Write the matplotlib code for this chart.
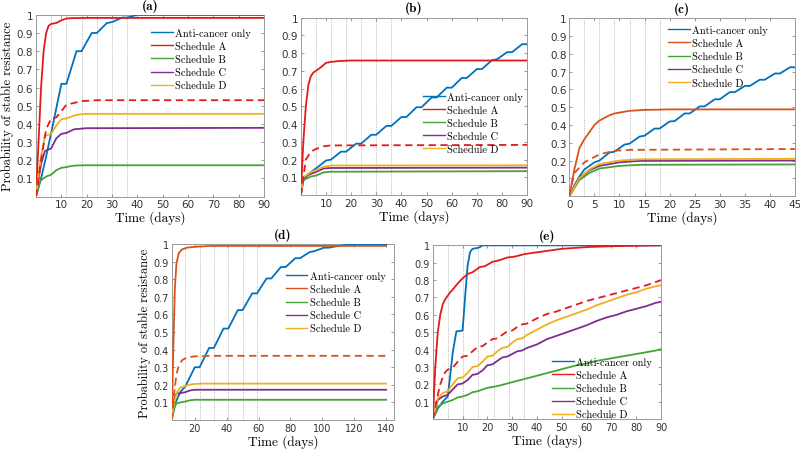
import numpy as np
import matplotlib
matplotlib.use("Agg")
import matplotlib.pyplot as plt

# ---- colours (MATLAB-ish) ----
BLUE = "#0072BD"
RED = "#E31A1C"
ORANGE = "#D95319"
GREEN = "#46A23A"
PURPLE = "#7E2F8E"
YELLOW = "#EDB120"

labels = ["Anti-cancer only", "Schedule A", "Schedule B", "Schedule C", "Schedule D"]

# ---- panel (a) ----
a_blue_t = [0, 2, 4, 6, 10, 12, 16, 18, 22, 24, 28, 30, 34, 36, 40, 50, 90]
a_blue_p = [0, 0.1, 0.22, 0.35, 0.62, 0.62, 0.80, 0.80, 0.90, 0.90, 0.955, 0.96, 0.985, 0.985, 1.0, 1.0, 1.0]
a_red_t = [0, 1, 2, 3, 4, 5, 6, 8, 10, 12, 15, 20, 90]
a_red_p = [0, 0.3, 0.6, 0.8, 0.9, 0.94, 0.95, 0.955, 0.97, 0.98, 0.982, 0.983, 0.983]
a_green_t = [0, 1, 2, 4, 6, 8, 10, 12, 14, 16, 20, 90]
a_green_p = [0, 0.06, 0.09, 0.11, 0.12, 0.145, 0.158, 0.162, 0.168, 0.171, 0.172, 0.172]
a_purple_t = [0, 1, 2, 3.5, 6, 8, 10, 12, 15, 20, 90]
a_purple_p = [0, 0.1, 0.18, 0.25, 0.265, 0.32, 0.345, 0.35, 0.37, 0.376, 0.378]
a_yellow_t = [0, 1, 2, 3.5, 6, 8, 10, 12, 14, 16, 20, 90]
a_yellow_p = [0, 0.12, 0.22, 0.335, 0.345, 0.39, 0.425, 0.43, 0.44, 0.45, 0.455, 0.455]
a_dash_t = [0, 2, 4, 6, 8, 10, 12, 15, 18, 24, 90]
a_dash_p = [0, 0.2, 0.37, 0.43, 0.435, 0.47, 0.505, 0.515, 0.525, 0.53, 0.53]
a_doses = [6, 12, 18, 24, 30, 36]

# ---- panel (b) ----
b_blue_t = [0, 1, 3, 6, 10, 12, 16, 18, 22, 24, 28, 30, 34, 36, 40, 42, 46, 48, 52, 54,
            58, 60, 64, 66, 70, 72, 76, 78, 82, 84, 88, 90]
b_blue_p = [0, 0.08, 0.12, 0.15, 0.195, 0.2, 0.245, 0.245, 0.29, 0.29, 0.34, 0.34, 0.39, 0.39,
            0.44, 0.44, 0.495, 0.495, 0.55, 0.55, 0.605, 0.605, 0.66, 0.66, 0.71, 0.71,
            0.76, 0.765, 0.805, 0.805, 0.85, 0.85]
b_red_t = [0, 1, 2, 3, 4, 5, 6, 8, 10, 12, 15, 20, 90]
b_red_p = [0, 0.3, 0.5, 0.62, 0.67, 0.69, 0.70, 0.72, 0.745, 0.75, 0.755, 0.758, 0.758]
b_green_t = [0, 1, 4, 6, 9, 12, 90]
b_green_p = [0, 0.085, 0.105, 0.11, 0.128, 0.132, 0.135]
b_purple_t = [0, 1, 4, 6, 9, 12, 90]
b_purple_p = [0, 0.1, 0.12, 0.13, 0.15, 0.153, 0.155]
b_yellow_t = [0, 1, 4, 6, 9, 12, 90]
b_yellow_p = [0, 0.1, 0.13, 0.14, 0.16, 0.167, 0.168]
b_dash_t = [0, 2, 4, 6, 9, 12, 90]
b_dash_p = [0, 0.2, 0.245, 0.26, 0.275, 0.28, 0.283]
b_doses = [6, 12, 18, 24, 30, 36]

# ---- panel (c) ----
c_blue_t = [0, 1, 2, 3, 5, 6, 8, 9, 11, 12, 14, 15, 17, 18, 20, 21, 23, 24, 26, 27, 29, 30,
            32, 33, 35, 36, 38, 39, 41, 42, 44, 45]
c_blue_p = [0, 0.06, 0.11, 0.15, 0.19, 0.2, 0.245, 0.25, 0.29, 0.295, 0.335, 0.34, 0.38, 0.38,
            0.42, 0.422, 0.465, 0.465, 0.505, 0.505, 0.545, 0.545, 0.585, 0.585, 0.62, 0.62,
            0.655, 0.655, 0.69, 0.69, 0.725, 0.725]
c_red_t = [0, 1, 2, 3, 4, 5, 6, 7, 8, 9, 10, 12, 15, 20, 45]
c_red_p = [0, 0.15, 0.27, 0.32, 0.36, 0.40, 0.425, 0.44, 0.455, 0.465, 0.47, 0.48, 0.485, 0.488, 0.488]
c_green_t = [0, 2, 4, 6, 10, 14, 45]
c_green_p = [0, 0.09, 0.13, 0.155, 0.17, 0.176, 0.178]
c_purple_t = [0, 2, 4, 6, 10, 14, 45]
c_purple_p = [0, 0.1, 0.145, 0.17, 0.19, 0.198, 0.2]
c_yellow_t = [0, 2, 4, 6, 10, 14, 45]
c_yellow_p = [0, 0.1, 0.15, 0.18, 0.2, 0.207, 0.21]
c_dash_t = [0, 1, 3, 6, 9, 12, 45]
c_dash_p = [0, 0.13, 0.19, 0.235, 0.255, 0.26, 0.265]
c_doses = [3, 6, 9, 12, 15, 18]

# ---- panel (d) ----
d_blue_t = [5.5, 8, 11, 14, 20, 23, 29, 32, 38, 41, 47, 50, 56, 59, 65, 68, 74, 77, 83, 86,
            92, 95, 101, 104, 110, 115, 125, 140]
d_blue_p = [0, 0.1, 0.16, 0.19, 0.30, 0.30, 0.41, 0.41, 0.52, 0.52, 0.625, 0.625, 0.72, 0.72,
            0.805, 0.805, 0.87, 0.87, 0.92, 0.92, 0.955, 0.96, 0.98, 0.98, 0.99, 0.995, 1.0, 1.0]
d_red_t = [5.5, 6.5, 7.5, 8.5, 10, 12, 15, 20, 30, 140]
d_red_p = [0, 0.4, 0.75, 0.89, 0.95, 0.97, 0.98, 0.985, 0.99, 0.99]
d_green_t = [5.5, 7, 8.5, 11, 14, 17, 20, 140]
d_green_p = [0, 0.07, 0.095, 0.1, 0.105, 0.112, 0.115, 0.115]
d_purple_t = [5.5, 7, 8.5, 11, 14, 17, 20, 140]
d_purple_p = [0, 0.12, 0.15, 0.153, 0.158, 0.168, 0.172, 0.172]
d_yellow_t = [5.5, 7, 9, 11, 13, 16, 20, 25, 140]
d_yellow_p = [0, 0.1, 0.16, 0.185, 0.19, 0.2, 0.205, 0.207, 0.207]
d_dash_t = [5.5, 7, 8.5, 10, 12, 15, 20, 30, 140]
d_dash_p = [0, 0.15, 0.26, 0.31, 0.34, 0.355, 0.362, 0.365, 0.365]
d_doses = [14, 23, 32, 41, 50, 59]

# ---- panel (e) ----
e_blue_t = [-2, 0, 2, 4, 5, 6, 7.5, 10, 11, 12, 13, 14, 16, 17, 18, 90]
e_blue_p = [0, 0.06, 0.1, 0.13, 0.25, 0.38, 0.505, 0.51, 0.7, 0.88, 0.96, 0.98, 0.985, 0.99, 1.0, 1.0]
e_red_t = [-2, -1, 0, 1, 2, 3, 4, 5, 6, 8, 10, 12, 14, 17, 19, 22, 25, 28, 31, 35, 40, 45, 50,
           60, 70, 90]
e_red_p = [0, 0.3, 0.5, 0.6, 0.66, 0.69, 0.71, 0.73, 0.745, 0.78, 0.81, 0.835, 0.845, 0.875,
           0.88, 0.905, 0.915, 0.93, 0.935, 0.95, 0.96, 0.97, 0.98, 0.99, 0.995, 1.0]
e_green_t = [-2, 0, 2, 4, 6, 8, 10, 12, 14, 16, 20, 24, 28, 32, 36, 40, 44, 48, 52, 56, 60,
             64, 68, 72, 76, 80, 84, 88, 90]
e_green_p = [0, 0.07, 0.09, 0.1, 0.11, 0.125, 0.13, 0.14, 0.155, 0.16, 0.18, 0.19, 0.205, 0.22,
             0.235, 0.25, 0.265, 0.28, 0.295, 0.31, 0.32, 0.335, 0.345, 0.355, 0.365, 0.375,
             0.385, 0.395, 0.403]
e_purple_t = [-2, 0, 2, 4, 6, 8, 10, 12, 14, 16, 18, 20, 22, 24, 26, 28, 30, 32, 34, 36, 40,
              44, 48, 52, 56, 60, 64, 68, 72, 76, 80, 84, 88, 90]
e_purple_p = [0, 0.11, 0.13, 0.14, 0.17, 0.2, 0.205, 0.225, 0.255, 0.26, 0.28, 0.31, 0.315,
              0.335, 0.355, 0.36, 0.375, 0.39, 0.395, 0.41, 0.43, 0.46, 0.48, 0.5, 0.52, 0.54,
              0.565, 0.585, 0.6, 0.62, 0.635, 0.65, 0.67, 0.675]
e_yellow_t = [-2, 0, 2, 4, 6, 8, 10, 12, 14, 16, 18, 20, 22, 24, 26, 28, 30, 32, 34, 36, 40,
              44, 48, 52, 56, 60, 64, 68, 72, 76, 80, 84, 88, 90]
e_yellow_p = [0, 0.12, 0.15, 0.16, 0.2, 0.235, 0.24, 0.265, 0.3, 0.305, 0.33, 0.36, 0.365,
              0.39, 0.41, 0.415, 0.44, 0.46, 0.465, 0.485, 0.515, 0.545, 0.57, 0.59, 0.61,
              0.63, 0.655, 0.675, 0.695, 0.715, 0.73, 0.75, 0.765, 0.77]
e_dash_t = [-2, 0, 1, 2, 3, 4, 6, 8, 10, 12, 14, 16, 18, 20, 22, 24, 26, 28, 30, 32, 34, 36,
            40, 44, 48, 52, 56, 60, 64, 68, 72, 76, 80, 84, 88, 90]
e_dash_p = [0, 0.14, 0.2, 0.24, 0.27, 0.285, 0.295, 0.33, 0.36, 0.365, 0.39, 0.415, 0.42,
            0.44, 0.46, 0.465, 0.485, 0.505, 0.51, 0.53, 0.545, 0.55, 0.58, 0.605, 0.62,
            0.64, 0.66, 0.68, 0.695, 0.71, 0.725, 0.74, 0.755, 0.77, 0.79, 0.80]
e_doses = [4.2, 10.3, 16.4, 22.5, 28.6, 34.8]

panels = [
    dict(name="(a)", rect=[0.045, 0.563, 0.285, 0.402], xlim=(0, 90), xticks=range(10, 91, 10),
         red=RED, doses=a_doses, ylabel=True, leg=(0.95, 0.94), tick_fs=7.5,
         series=[(a_blue_t, a_blue_p), (a_red_t, a_red_p), (a_green_t, a_green_p),
                 (a_purple_t, a_purple_p), (a_yellow_t, a_yellow_p)],
         dash=(a_dash_t, a_dash_p)),
    dict(name="(b)", rect=[0.376, 0.566, 0.283, 0.393], xlim=(0, 90), xticks=range(10, 91, 10),
         red=RED, doses=b_doses, ylabel=False, leg=(0.99, 0.595), tick_fs=7.5,
         series=[(b_blue_t, b_blue_p), (b_red_t, b_red_p), (b_green_t, b_green_p),
                 (b_purple_t, b_purple_p), (b_yellow_t, b_yellow_p)],
         dash=(b_dash_t, b_dash_p)),
    dict(name="(c)", rect=[0.7117, 0.564, 0.282, 0.393], xlim=(0, 45), xticks=range(0, 46, 5),
         red=ORANGE, doses=c_doses, ylabel=False, leg=(0.89, 0.975), tick_fs=7.5,
         series=[(c_blue_t, c_blue_p), (c_red_t, c_red_p), (c_green_t, c_green_p),
                 (c_purple_t, c_purple_p), (c_yellow_t, c_yellow_p)],
         dash=(c_dash_t, c_dash_p)),
    dict(name="(d)", rect=[0.2146, 0.0686, 0.278, 0.389], xlim=(5.5, 145), xticks=range(20, 141, 20),
         red=ORANGE, doses=d_doses, ylabel=True, leg=(0.97, 0.86), tick_fs=7,
         series=[(d_blue_t, d_blue_p), (d_red_t, d_red_p), (d_green_t, d_green_p),
                 (d_purple_t, d_purple_p), (d_yellow_t, d_yellow_p)],
         dash=(d_dash_t, d_dash_p)),
    dict(name="(e)", rect=[0.541, 0.0705, 0.2854, 0.3845], xlim=(-2, 90), xticks=range(10, 91, 10),
         red=RED, doses=e_doses, ylabel=False, leg=(0.97, 0.37), tick_fs=7,
         series=[(e_blue_t, e_blue_p), (e_red_t, e_red_p), (e_green_t, e_green_p),
                 (e_purple_t, e_purple_p), (e_yellow_t, e_yellow_p)],
         dash=(e_dash_t, e_dash_p)),
]

fig = plt.figure(figsize=(8, 4.52), dpi=100)

for pan in panels:
    ax = fig.add_axes(pan["rect"])
    colors = [BLUE, pan["red"], GREEN, PURPLE, YELLOW]
    for d in pan["doses"]:
        ax.axvline(d, color="#b5b5b5", lw=0.6, ls=(0, (1.5, 1.5)), zorder=1)
    handles = []
    for (t, p), c, lab in zip(pan["series"], colors, labels):
        h, = ax.plot(t, p, color=c, lw=1.3, label=lab, zorder=3)
        handles.append(h)
    ax.plot(pan["dash"][0], pan["dash"][1], color=pan["red"], lw=1.3, ls=(0, (4, 2.5)), zorder=3)

    ax.set_xlim(*pan["xlim"])
    ax.set_ylim(0, 1)
    ax.set_xticks(list(pan["xticks"]))
    ax.set_yticks(np.round(np.arange(0.1, 1.01, 0.1), 1))
    ax.set_yticklabels(["0.1", "0.2", "0.3", "0.4", "0.5", "0.6", "0.7", "0.8", "0.9", "1"])
    ax.tick_params(direction="in", top=True, right=True, length=2.5, width=0.6,
                   colors="#888888", labelcolor="#333333", labelsize=pan["tick_fs"], pad=2)
    for s in ax.spines.values():
        s.set_color("#999999")
        s.set_linewidth(0.7)

    ax.set_title(pan["name"], family="cmb10", fontsize=9.5, pad=4.5)
    ax.set_xlabel("Time (days)", family="cmr10", fontsize=9.5, labelpad=1)
    if pan["ylabel"]:
        ax.set_ylabel("Probability of stable resistance", family="cmr10", fontsize=9, labelpad=2)

    leg = ax.legend(handles=handles, loc="upper right", bbox_to_anchor=pan["leg"], frameon=False,
                    prop={"family": "cmr10", "size": 7.5}, handlelength=2.1, handletextpad=0.2,
                    labelspacing=0.35, borderpad=0.2, borderaxespad=0)
    for lh in leg.get_lines():
        lh.set_linewidth(1.0)

fig.savefig("out.png", dpi=100)
